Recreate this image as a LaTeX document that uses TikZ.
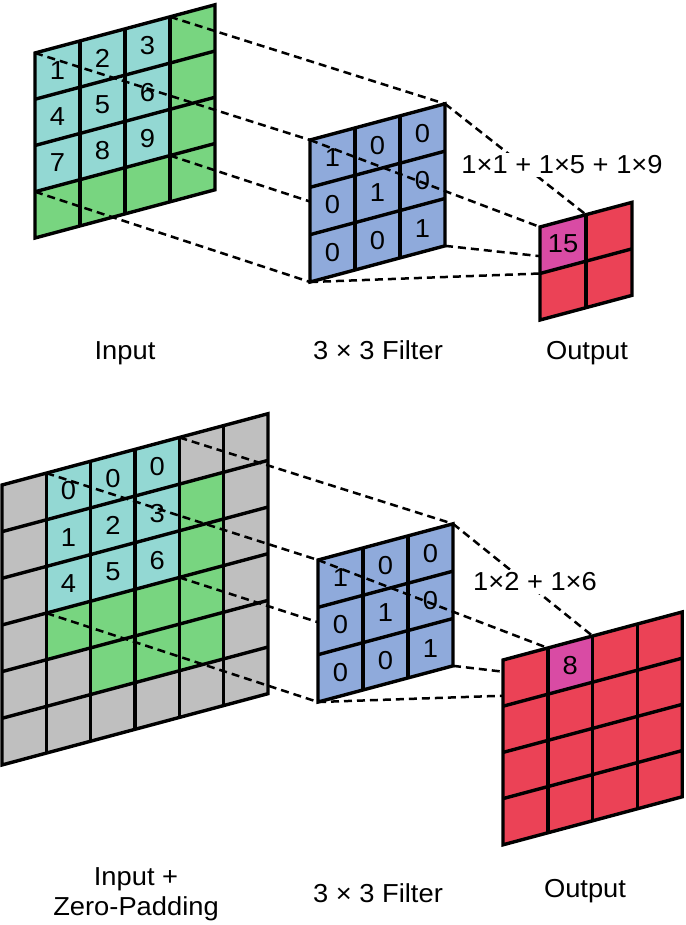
\documentclass[tikz,border=0pt]{standalone}
\usepackage{fontspec}
\setmainfont{Liberation Sans}[FakeStretch=1.05]
\definecolor{cellcyan}{HTML}{93D8D3}
\definecolor{cellgreen}{HTML}{78D580}
\definecolor{cellblue}{HTML}{8FAADB}
\definecolor{cellred}{HTML}{EB4256}
\definecolor{cellpink}{HTML}{D94BA4}
\definecolor{cellgray}{HTML}{BFBFBF}

\begin{document}
\begin{tikzpicture}[
  x=0.5pt, y=-0.5pt,
  every node/.style={font=\fontsize{13}{15}\selectfont},
  cellval/.style={inner sep=0pt},
  outline/.style={line width=1.7pt, line join=miter},
  gridline/.style={line width=1.7pt},
  proj/.style={line width=1.25pt, dash pattern=on 4pt off 2.5pt},
  sumlabel/.style={fill=white, inner sep=1.5pt},
  caption/.style={align=center, inner sep=0pt},
  sheet/.style={yslant=0.268},
]

% ------------------------------------------------------------- canvas --
\path[use as bounding box, fill=white] (0,0) rectangle (685,925);

% ------------------------------------------------------- grid origins --
\coordinate (inA)  at (35,53);
\coordinate (fiA)  at (310,140);
\coordinate (outA) at (540,227);
\coordinate (inB)  at (2,485);
\coordinate (fiB)  at (318,560);
\coordinate (outB) at (503,660);

% ================================================= top: no padding ==
% ---------------------------------------------------------- input 4x4 --
\begin{scope}[shift={(inA)}, x=22.5pt, y=-23.125pt, sheet]
  \fill[cellgreen] (0,0) rectangle (4,4);
  \fill[cellcyan] (0,0) rectangle (3,3);
  \foreach \c in {1,2,3} \draw[gridline] (\c,0) -- (\c,4);
  \foreach \r in {1,2,3} \draw[gridline] (0,\r) -- (4,\r);
  \draw[outline] (0,0) rectangle (4,4);
  \foreach \v [count=\i from 0] in {1,...,9} {
    \pgfmathtruncatemacro\c{mod(\i,3)}
    \pgfmathtruncatemacro\r{div(\i,3)}
    \node[cellval] (inA-n\i) at (\c+0.5,\r+0.5) {\v};
  }
  \foreach \c in {0,...,4} \foreach \r in {0,...,4} \coordinate (inA-\c-\r) at (\c,\r);
\end{scope}

% ------------------------------------------------- input -> filter --
\begin{scope}[shift={(fiA)}, x=22.5pt, y=-23.67pt, sheet]
  \foreach \c in {0,...,3} \foreach \r in {0,...,3} \coordinate (fiA-\c-\r) at (\c,\r);
\end{scope}
\draw[proj] (inA-0-0) -- (fiA-0-0);
\draw[proj] (inA-3-0) -- (fiA-3-0);
\draw[proj] (inA-3-3) -- (fiA-3-3);
\draw[proj] (inA-0-3) -- (fiA-0-3);

% --------------------------------------------------------- filter 3x3 --
\begin{scope}[shift={(fiA)}, x=22.5pt, y=-23.67pt, sheet]
  \fill[cellblue] (0,0) rectangle (3,3);
  \foreach \c in {1,2} \draw[gridline] (\c,0) -- (\c,3);
  \foreach \r in {1,2} \draw[gridline] (0,\r) -- (3,\r);
  \draw[outline] (0,0) rectangle (3,3);
  \foreach \v [count=\i from 0] in {1,0,0,0,1,0,0,0,1} {
    \pgfmathtruncatemacro\c{mod(\i,3)}
    \pgfmathtruncatemacro\r{div(\i,3)}
    \node[cellval] (fiA-n\i) at (\c+0.5,\r+0.5) {\v};
  }
\end{scope}

% ------------------------------------------------- filter -> output --
\begin{scope}[shift={(outA)}, x=23pt, y=-23.25pt, sheet]
  \foreach \c in {0,...,2} \foreach \r in {0,...,2} \coordinate (outA-\c-\r) at (\c,\r);
\end{scope}
\draw[proj] (fiA-0-0) -- (outA-0-0);
\draw[proj] (fiA-3-0) -- (outA-1-0);
\draw[proj] (fiA-3-3) -- (outA-1-1);
\draw[proj] (fiA-0-3) -- (outA-0-1);
\node[sumlabel] (sumA) at (562,165) {1×1 + 1×5 + 1×9};

% --------------------------------------------------------- output 2x2 --
\begin{scope}[shift={(outA)}, x=23pt, y=-23.25pt, sheet]
  \fill[cellred] (0,0) rectangle (2,2);
  \fill[cellpink] (0,0) rectangle (1,1);
  \draw[gridline] (1,0) -- (1,2);
  \draw[gridline] (0,1) -- (2,1);
  \draw[outline] (0,0) rectangle (2,2);
  \node[cellval] (outA-n0) at (0.5,0.5) {15};
\end{scope}

% ----------------------------------------------------------- captions --
\node[caption, anchor=base] (capA-in)  at (125,359) {Input};
\node[caption, anchor=base] (capA-fi)  at (378,359) {3 × 3 Filter};
\node[caption, anchor=base] (capA-out) at (587,359) {Output};

% ============================================ bottom: zero padding ==
% ------------------------------------------------------ input 6x6 --
\begin{scope}[shift={(inB)}, x=22.17pt, y=-23.33pt, sheet]
  \fill[cellgray] (0,0) rectangle (6,6);
  \fill[cellgreen] (1,3) rectangle (5,4);
  \fill[cellgreen] (2,4) rectangle (5,5);
  \fill[cellgreen] (4,1) rectangle (5,3);
  \fill[cellcyan] (1,0) rectangle (4,3);
  \foreach \c in {1,...,5} \draw[gridline] (\c,0) -- (\c,6);
  \foreach \r in {1,...,5} \draw[gridline] (0,\r) -- (6,\r);
  \draw[outline] (0,0) rectangle (6,6);
  \foreach \v [count=\i from 0] in {0,0,0,1,2,3,4,5,6} {
    \pgfmathtruncatemacro\c{mod(\i,3)+1}
    \pgfmathtruncatemacro\r{div(\i,3)}
    \node[cellval] (inB-n\i) at (\c+0.5,\r+0.5) {\v};
  }
  \foreach \c in {0,...,6} \foreach \r in {0,...,6} \coordinate (inB-\c-\r) at (\c,\r);
\end{scope}

% ------------------------------------------------- input -> filter --
\begin{scope}[shift={(fiB)}, x=22.5pt, y=-23.67pt, sheet]
  \foreach \c in {0,...,3} \foreach \r in {0,...,3} \coordinate (fiB-\c-\r) at (\c,\r);
\end{scope}
\draw[proj] (inB-1-0) -- (fiB-0-0);
\draw[proj] (inB-4-0) -- (fiB-3-0);
\draw[proj] (inB-4-3) -- (fiB-3-3);
\draw[proj] (inB-1-3) -- (fiB-0-3);

% --------------------------------------------------------- filter 3x3 --
\begin{scope}[shift={(fiB)}, x=22.5pt, y=-23.67pt, sheet]
  \fill[cellblue] (0,0) rectangle (3,3);
  \foreach \c in {1,2} \draw[gridline] (\c,0) -- (\c,3);
  \foreach \r in {1,2} \draw[gridline] (0,\r) -- (3,\r);
  \draw[outline] (0,0) rectangle (3,3);
  \foreach \v [count=\i from 0] in {1,0,0,0,1,0,0,0,1} {
    \pgfmathtruncatemacro\c{mod(\i,3)}
    \pgfmathtruncatemacro\r{div(\i,3)}
    \node[cellval] (fiB-n\i) at (\c+0.5,\r+0.5) {\v};
  }
\end{scope}

% ------------------------------------------------- filter -> output --
\begin{scope}[shift={(outB)}, x=22.4pt, y=-23.1pt, sheet]
  \foreach \c in {0,...,4} \foreach \r in {0,...,4} \coordinate (outB-\c-\r) at (\c,\r);
\end{scope}
\draw[proj] (fiB-0-0) -- (outB-1-0);
\draw[proj] (fiB-3-0) -- (outB-2-0);
\draw[proj] (fiB-3-3) -- (outB-2-1);
\draw[proj] (fiB-0-3) -- (outB-1-1);
\node[sumlabel] (sumB) at (535,582) {1×2 + 1×6};

% --------------------------------------------------------- output 4x4 --
\begin{scope}[shift={(outB)}, x=22.4pt, y=-23.1pt, sheet]
  \fill[cellred] (0,0) rectangle (4,4);
  \fill[cellpink] (1,0) rectangle (2,1);
  \foreach \c in {1,2,3} \draw[gridline] (\c,0) -- (\c,4);
  \foreach \r in {1,2,3} \draw[gridline] (0,\r) -- (4,\r);
  \draw[outline] (0,0) rectangle (4,4);
  \node[cellval] (outB-n0) at (1.5,0.5) {8};
\end{scope}

% ----------------------------------------------------------- captions --
\node[caption] (capB-in) at (136,894) {Input +\\Zero-Padding};
\node[caption, anchor=base] (capB-fi)  at (378,902) {3 × 3 Filter};
\node[caption, anchor=base] (capB-out) at (585,897) {Output};

\end{tikzpicture}
\end{document}
